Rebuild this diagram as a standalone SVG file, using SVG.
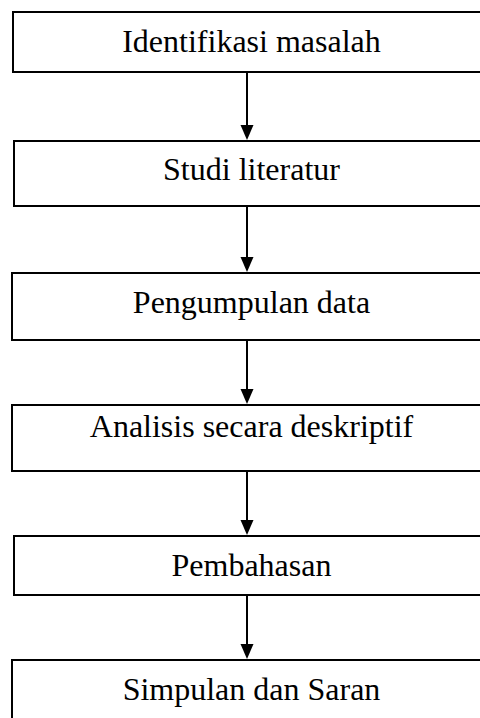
<svg xmlns="http://www.w3.org/2000/svg" width="480" height="718" viewBox="0 0 480 718">
<defs>
<style>
.box{fill:#fff;stroke:#000;stroke-width:2}
.lbl{font-family:"Liberation Serif","Times New Roman",serif;font-size:32px;fill:#000;text-anchor:middle}
.conn{stroke:#000;stroke-width:2;fill:none}
</style>
<marker id="ah" markerWidth="14" markerHeight="16" refX="7" refY="15" orient="auto-start-reverse" markerUnits="userSpaceOnUse" viewBox="0 0 14 16">
<path d="M0.5,0 L13.5,0 L7,15 Z" fill="#000"/>
</marker>
</defs>
<rect width="480" height="718" fill="#fff"/>
<g id="n1"><rect class="box" x="13" y="12" width="480" height="60"/><text class="lbl" x="251.5" y="52">Identifikasi masalah</text></g>
<g id="n2"><rect class="box" x="14" y="141" width="480" height="65"/><text class="lbl" x="251.5" y="180">Studi literatur</text></g>
<g id="n3"><rect class="box" x="12" y="273" width="480" height="67"/><text class="lbl" x="251.5" y="313">Pengumpulan data</text></g>
<g id="n4"><rect class="box" x="12" y="405" width="480" height="66"/><text class="lbl" x="251.5" y="437">Analisis secara deskriptif</text></g>
<g id="n5"><rect class="box" x="14" y="536" width="480" height="59"/><text class="lbl" x="251.5" y="576">Pembahasan</text></g>
<g id="n6"><rect class="box" x="12" y="660" width="480" height="80"/><text class="lbl" x="251.5" y="700">Simpulan dan Saran</text></g>
<g id="connectors">
<line class="conn" x1="247" y1="73" x2="247" y2="126"/><path d="M240.5,125 L253.5,125 L247,140 Z" fill="#000"/>
<line class="conn" x1="247" y1="207" x2="247" y2="258"/><path d="M240.5,257 L253.5,257 L247,272 Z" fill="#000"/>
<line class="conn" x1="247" y1="341" x2="247" y2="390"/><path d="M240.5,389 L253.5,389 L247,404 Z" fill="#000"/>
<line class="conn" x1="247" y1="472" x2="247" y2="521"/><path d="M240.5,520 L253.5,520 L247,535 Z" fill="#000"/>
<line class="conn" x1="247" y1="596" x2="247" y2="645"/><path d="M240.5,644 L253.5,644 L247,659 Z" fill="#000"/>
</g>
</svg>
